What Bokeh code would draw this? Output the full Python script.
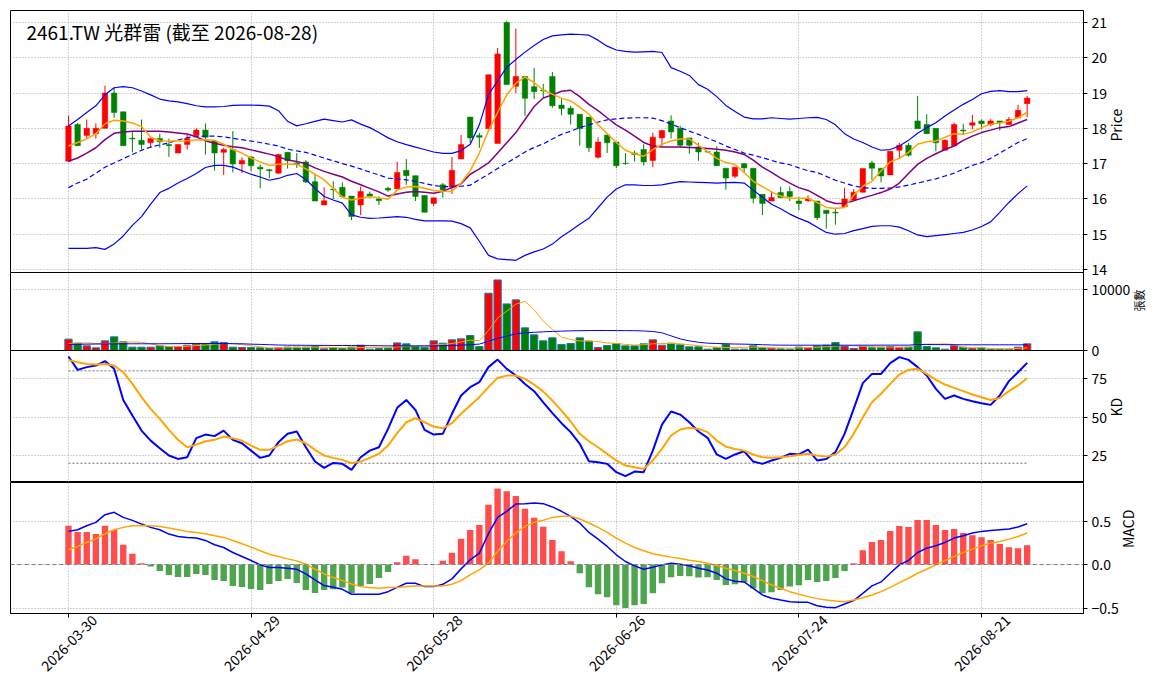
import math
from bokeh.plotting import figure
from bokeh.layouts import column
from bokeh.models import Range1d, FixedTicker, Label, Span, LinearAxis
from bokeh.embed import file_html
from bokeh.resources import INLINE

# ---------------- data ----------------
title_text = "2461.TW 光群雷 (截至 2026-08-28)"
tick_pos = [0, 20, 40, 60, 80, 100]
tick_labels = ["2026-03-30", "2026-04-29", "2026-05-28", "2026-06-26", "2026-07-24", "2026-08-21"]

opens = [17.07,18.11,17.80,17.85,18.00,19.00,18.47,17.72,17.66,17.59,
         17.71,17.54,17.30,17.54,17.80,17.95,17.64,17.32,17.40,16.99,
         17.19,16.90,16.83,16.73,17.32,17.02,17.05,16.49,15.83,16.28,
         16.33,16.08,15.83,16.14,16.00,16.30,16.29,16.81,16.66,16.10,
         15.87,16.40,16.33,17.13,18.32,17.80,17.99,17.57,21.00,19.19,
         19.47,19.18,19.08,19.47,18.66,18.57,18.40,18.32,17.18,17.81,
         17.61,17.01,17.30,17.40,17.09,17.73,18.21,18.00,17.73,17.47,
         17.34,17.33,16.87,16.64,17.00,16.87,16.13,15.94,16.18,16.21,
         15.94,15.95,15.94,15.68,15.62,15.78,15.97,16.19,17.02,16.87,
         16.68,17.38,17.52,18.21,18.11,18.00,17.38,17.51,17.95,18.09,
         18.21,18.11,18.21,18.11,18.30,18.70]
highs = [18.37,18.15,18.25,18.14,19.21,19.16,18.47,17.92,18.25,17.73,
         17.85,17.71,17.56,17.83,18.00,18.14,17.64,17.45,17.92,17.18,
         17.21,16.97,16.85,17.28,17.32,17.30,17.10,16.69,16.33,16.50,
         16.47,16.08,16.35,16.21,16.07,16.35,17.05,17.13,16.66,16.10,
         16.03,16.45,17.19,17.81,18.32,17.87,19.52,20.28,21.05,20.83,
         19.47,19.71,19.26,19.60,18.83,18.64,18.40,18.32,17.75,17.81,
         17.61,17.30,17.37,17.55,17.88,17.94,18.37,18.07,17.73,17.59,
         17.36,17.49,16.87,16.90,17.02,16.87,16.13,16.21,16.35,16.35,
         16.06,16.10,15.94,15.68,15.75,16.32,16.28,16.86,17.08,16.87,
         17.35,17.59,17.59,18.92,18.40,18.00,17.69,18.16,18.13,18.38,
         18.25,18.26,18.21,18.32,18.67,18.92]
lows = [17.05,17.50,17.71,17.71,18.00,18.30,17.51,17.32,17.40,17.45,
        17.45,17.19,17.30,17.40,17.80,17.26,16.80,16.68,16.75,16.73,
        16.78,16.30,16.59,16.71,16.86,16.88,16.45,15.94,15.83,16.00,
        16.03,15.40,15.54,16.02,15.83,16.20,16.27,16.40,15.94,15.62,
        15.80,16.04,16.14,17.13,17.59,17.45,17.99,17.57,19.24,19.00,
        18.35,18.83,18.88,18.58,18.37,18.11,17.51,17.33,17.14,17.30,
        16.87,16.97,17.06,16.95,16.90,17.49,17.71,17.46,17.28,17.08,
        17.31,16.94,16.26,16.59,16.73,15.87,15.54,15.94,16.02,15.94,
        15.68,15.92,15.40,15.16,15.27,15.78,15.97,16.19,16.54,16.47,
        16.68,17.16,17.20,17.99,17.85,17.35,17.38,17.51,17.83,17.97,
        17.97,18.06,17.94,18.11,18.30,18.32]
closes = [18.07,17.51,18.00,18.00,19.00,18.45,17.51,17.70,17.54,17.71,
          17.62,17.51,17.54,17.71,17.95,17.75,17.30,17.40,16.99,17.09,
          16.94,16.85,16.80,17.26,17.08,16.98,16.48,15.94,15.95,16.26,
          16.07,15.50,16.21,16.07,15.95,16.25,16.75,16.66,16.07,15.62,
          16.03,16.26,16.81,17.54,17.73,17.75,19.52,20.11,19.24,19.47,
          18.85,19.04,19.06,18.64,18.56,18.40,17.99,17.45,17.61,17.59,
          16.94,17.00,17.26,17.05,17.75,17.94,17.90,17.52,17.52,17.33,
          17.33,16.94,16.59,16.90,16.88,16.02,15.87,16.04,16.04,16.07,
          15.87,16.00,15.47,15.59,15.60,16.00,16.19,16.86,16.87,16.65,
          17.35,17.52,17.24,17.99,17.85,17.59,17.66,18.11,17.93,18.16,
          18.13,18.21,18.16,18.25,18.51,18.86]

ma5 = [17.50,17.60,17.70,17.85,18.13,18.23,18.21,18.15,18.05,17.75,
       17.65,17.64,17.64,17.65,17.67,17.68,17.66,17.55,17.40,17.30,
       17.16,17.05,16.95,16.98,16.99,16.98,16.85,16.70,16.54,16.30,
       16.05,15.97,16.02,16.07,16.03,15.99,16.25,16.34,16.35,16.30,
       16.24,16.22,16.21,16.45,16.80,17.30,17.93,18.45,18.95,19.28,
       19.45,19.30,19.08,18.97,18.85,18.78,18.60,18.40,18.10,17.85,
       17.60,17.38,17.28,17.21,17.40,17.55,17.64,17.70,17.70,17.52,
       17.35,17.15,17.03,16.98,16.75,16.50,16.35,16.20,16.08,16.02,
       16.02,16.02,15.90,15.76,15.73,15.76,16.10,16.36,16.50,16.80,
       17.05,17.15,17.32,17.55,17.62,17.64,17.75,17.85,17.83,17.90,
       18.02,18.12,18.15,18.20,18.30,18.45]
ma10 = [17.07,17.16,17.30,17.45,17.68,17.86,17.90,17.92,17.92,17.92,
        17.92,17.90,17.87,17.84,17.76,17.65,17.58,17.52,17.48,17.45,
        17.39,17.33,17.27,17.20,17.10,17.06,17.00,16.88,16.78,16.70,
        16.62,16.50,16.40,16.30,16.20,16.08,16.14,16.19,16.21,16.19,
        16.16,16.22,16.32,16.43,16.70,16.85,17.02,17.30,17.59,17.88,
        18.25,18.62,18.86,18.95,19.05,19.08,18.90,18.68,18.50,18.30,
        18.10,17.95,17.78,17.60,17.50,17.47,17.47,17.47,17.46,17.45,
        17.43,17.41,17.38,17.33,17.26,17.10,16.90,16.75,16.59,16.45,
        16.32,16.24,16.10,15.95,15.87,15.88,15.95,16.03,16.10,16.18,
        16.28,16.45,16.72,16.98,17.15,17.28,17.40,17.50,17.66,17.78,
        17.88,17.95,18.02,18.05,18.15,18.25]
bb_mid = [16.32,16.45,16.56,16.73,16.90,17.02,17.14,17.26,17.38,17.47,
          17.53,17.59,17.67,17.74,17.77,17.78,17.78,17.76,17.72,17.68,
          17.64,17.60,17.55,17.50,17.41,17.36,17.32,17.24,17.16,17.08,
          17.00,16.93,16.85,16.76,16.68,16.59,16.57,16.54,16.50,16.44,
          16.38,16.35,16.35,16.36,16.39,16.55,16.70,16.86,17.02,17.17,
          17.33,17.46,17.56,17.70,17.83,17.92,18.02,18.10,18.18,18.24,
          18.27,18.29,18.30,18.30,18.29,18.22,18.12,18.02,17.92,17.83,
          17.72,17.62,17.50,17.40,17.30,17.24,17.17,17.09,17.02,16.97,
          16.88,16.80,16.75,16.64,16.53,16.45,16.37,16.32,16.30,16.30,
          16.31,16.34,16.39,16.45,16.51,16.57,16.65,16.73,16.84,16.95,
          17.03,17.15,17.30,17.45,17.60,17.71]
bb_up = [18.07,18.25,18.45,18.64,18.95,19.15,19.18,19.15,19.06,18.95,
         18.83,18.78,18.75,18.70,18.64,18.61,18.61,18.62,18.65,18.66,
         18.66,18.65,18.63,18.50,18.20,18.07,18.13,18.20,18.26,18.22,
         18.18,18.24,18.12,18.02,17.88,17.73,17.62,17.54,17.47,17.40,
         17.33,17.29,17.29,17.37,17.55,18.10,18.95,19.35,19.73,19.95,
         20.16,20.35,20.52,20.62,20.65,20.67,20.66,20.64,20.50,20.33,
         20.22,20.18,20.16,20.17,20.18,20.15,19.72,19.62,19.50,19.24,
         19.11,18.90,18.65,18.48,18.32,18.27,18.27,18.30,18.28,18.26,
         18.28,18.30,18.31,18.25,18.10,17.85,17.70,17.60,17.47,17.38,
         17.40,17.50,17.66,17.86,18.02,18.16,18.35,18.52,18.68,18.82,
         18.98,19.05,19.07,19.04,19.04,19.07]
bb_low = [14.60,14.60,14.60,14.62,14.57,14.72,14.95,15.25,15.50,15.85,
          16.18,16.30,16.45,16.58,16.72,16.89,16.95,16.95,16.90,16.80,
          16.70,16.62,16.53,16.58,16.67,16.72,16.55,16.30,16.07,15.97,
          15.88,15.55,15.48,15.45,15.46,15.48,15.50,15.48,15.42,15.38,
          15.38,15.38,15.37,15.30,15.18,14.80,14.40,14.30,14.28,14.26,
          14.40,14.50,14.58,14.72,14.93,15.10,15.28,15.45,15.75,16.05,
          16.28,16.40,16.40,16.38,16.38,16.40,16.45,16.49,16.48,16.47,
          16.46,16.45,16.46,16.47,16.45,16.25,16.05,15.85,15.72,15.57,
          15.45,15.35,15.20,15.05,15.00,15.02,15.10,15.16,15.22,15.24,
          15.24,15.20,15.10,14.98,14.93,14.96,14.99,15.02,15.05,15.12,
          15.22,15.35,15.62,15.90,16.15,16.37]

volume = [1860,1200,760,440,1580,2240,1420,550,550,550,
          760,650,650,870,1040,1150,1420,1310,550,490,
          490,440,330,440,550,550,550,650,270,490,
          330,550,870,220,330,440,1250,1090,650,550,
          1580,1200,1750,1910,2460,650,9390,11570,7640,8300,
          3710,2570,1580,2070,980,1150,2070,1530,490,820,
          1150,760,760,1090,1750,870,1200,930,600,600,
          220,440,1040,220,220,760,440,380,270,220,
          550,440,760,870,1310,650,330,650,440,550,
          650,440,550,3060,650,440,220,760,550,330,
          440,220,220,220,550,1090]
vol_ma5 = [1150,1200,1250,1150,1150,1200,1350,1400,1350,1100,
           800,650,650,700,800,900,1050,1150,1100,950,
           800,600,450,440,450,480,520,560,520,480,
           440,420,500,480,480,460,600,700,750,780,
           900,1000,1150,1400,1700,1600,3300,5300,6450,7600,
           8050,6700,4800,3500,2200,1800,1560,1560,1450,1240,
           1150,1000,900,950,1100,1150,1150,1100,950,800,
           650,550,500,480,530,560,550,460,420,400,
           420,480,540,620,730,820,780,700,660,530,
           560,580,560,1000,1050,1050,1080,1000,500,460,
           460,350,300,280,340,430]
vol_ma20 = [1000,1020,1040,1060,1080,1090,1100,1100,1100,1100,
            1100,1110,1120,1140,1150,1150,1150,1140,1120,1100,
            1040,1000,950,900,870,860,850,840,830,820,
            820,810,800,790,780,760,760,760,760,760,
            760,780,820,880,950,1050,1500,2000,2350,2750,
            2900,2980,3060,3120,3170,3220,3250,3270,3280,3280,
            3270,3260,3250,3200,3110,2900,2400,1900,1580,1350,
            1200,1150,1100,1060,1040,1000,950,900,880,870,
            870,870,870,870,870,870,870,875,875,880,
            880,880,880,980,980,970,960,950,940,930,
            930,930,930,930,930,930]

k_line = [89.3,80.6,82.4,83.4,86.3,81.3,61.1,51.0,41.2,34.7,
          29.8,25.0,22.8,23.9,36.3,38.6,37.6,41.2,35.2,33.0,
          28.2,23.5,25.0,33.7,39.1,40.6,30.4,21.1,17.0,20.2,
          19.6,15.7,23.9,28.2,30.4,42.3,56.0,61.1,54.6,41.7,
          38.6,39.1,52.1,64.0,69.4,72.6,82.4,87.3,81.3,77.0,
          71.5,66.8,59.5,52.5,46.0,40.2,32.6,21.3,20.7,19.6,
          14.2,11.6,14.6,14.2,28.2,45.1,53.6,51.6,46.6,40.6,
          36.5,25.7,22.8,25.7,27.8,21.1,19.6,21.8,23.5,26.1,
          25.7,28.9,21.8,22.8,27.2,39.1,55.3,72.0,78.0,78.0,
          85.0,88.9,87.1,82.4,77.0,68.3,61.8,64.0,61.8,60.3,
          59.0,57.9,64.0,73.3,79.1,85.2]
d_line = [87.1,85.6,84.5,84.1,84.5,83.4,79.1,71.5,62.9,55.3,
          48.8,41.7,35.2,30.4,32.1,34.3,35.2,37.3,36.3,34.7,
          31.5,28.7,28.7,31.5,34.3,35.4,33.0,28.7,25.0,23.5,
          22.2,20.0,21.1,23.5,26.1,31.5,39.5,46.6,49.2,46.6,
          43.8,42.7,46.0,52.1,57.5,62.9,69.4,75.4,76.9,77.0,
          74.8,71.1,66.5,60.7,54.2,47.1,39.1,34.3,30.4,26.1,
          21.8,18.5,17.4,16.3,21.8,29.3,38.0,41.9,43.0,42.3,
          40.2,34.7,30.8,29.3,28.2,25.7,23.9,23.5,23.9,24.6,
          25.4,26.1,25.0,24.3,25.7,30.4,39.1,49.9,59.6,65.1,
          71.5,77.6,80.6,81.3,78.0,74.1,71.1,68.9,66.8,64.6,
          62.9,61.1,62.4,66.8,70.5,75.2]
kd_high, kd_low = 80, 20

macd_hist = [0.446,0.373,0.373,0.350,0.446,0.396,0.227,0.123,0.015,-0.023,
             -0.073,-0.119,-0.142,-0.142,-0.108,-0.119,-0.177,-0.188,-0.246,-0.258,
             -0.281,-0.292,-0.223,-0.188,-0.165,-0.212,-0.292,-0.327,-0.292,-0.285,
             -0.265,-0.327,-0.246,-0.223,-0.154,-0.085,0.027,0.100,0.062,0.002,
             0.002,0.042,0.135,0.296,0.396,0.454,0.688,0.873,0.842,0.788,
             0.642,0.538,0.435,0.281,0.154,0.038,-0.100,-0.262,-0.342,-0.377,
             -0.469,-0.500,-0.469,-0.454,-0.331,-0.215,-0.146,-0.131,-0.135,-0.150,
             -0.146,-0.177,-0.235,-0.227,-0.204,-0.277,-0.331,-0.319,-0.292,-0.254,
             -0.238,-0.177,-0.200,-0.188,-0.154,-0.073,0.015,0.165,0.258,0.281,
             0.385,0.442,0.431,0.512,0.512,0.454,0.396,0.408,0.362,0.338,
             0.315,0.281,0.235,0.200,0.188,0.223]
dif = [0.381,0.400,0.446,0.485,0.573,0.600,0.542,0.508,0.465,0.427,
       0.400,0.350,0.323,0.312,0.304,0.277,0.227,0.196,0.138,0.092,
       0.046,-0.004,-0.035,-0.035,-0.042,-0.054,-0.108,-0.177,-0.242,-0.262,
       -0.285,-0.342,-0.342,-0.342,-0.342,-0.312,-0.262,-0.215,-0.215,-0.254,
       -0.254,-0.227,-0.165,-0.050,0.054,0.131,0.354,0.542,0.612,0.696,
       0.700,0.708,0.700,0.662,0.612,0.554,0.477,0.369,0.292,0.208,
       0.112,0.035,-0.015,-0.054,-0.031,-0.004,0.015,0.004,-0.015,-0.042,
       -0.062,-0.100,-0.165,-0.192,-0.200,-0.273,-0.350,-0.388,-0.408,-0.427,
       -0.435,-0.435,-0.473,-0.492,-0.496,-0.454,-0.415,-0.331,-0.246,-0.200,
       -0.100,-0.004,0.046,0.138,0.188,0.215,0.254,0.304,0.331,0.362,
       0.381,0.392,0.400,0.408,0.431,0.469]
dea = [0.169,0.208,0.254,0.296,0.354,0.400,0.427,0.446,0.450,0.446,
       0.438,0.419,0.400,0.381,0.369,0.354,0.331,0.312,0.277,0.238,
       0.200,0.158,0.119,0.092,0.065,0.042,0.004,-0.054,-0.108,-0.150,
       -0.185,-0.223,-0.254,-0.265,-0.273,-0.265,-0.265,-0.254,-0.246,-0.246,
       -0.246,-0.246,-0.227,-0.185,-0.119,-0.062,0.015,0.150,0.265,0.362,
       0.438,0.485,0.508,0.542,0.554,0.554,0.523,0.477,0.427,0.369,
       0.304,0.246,0.196,0.158,0.123,0.104,0.085,0.069,0.050,0.035,
       0.015,-0.012,-0.042,-0.069,-0.100,-0.138,-0.185,-0.235,-0.273,-0.312,
       -0.342,-0.369,-0.392,-0.408,-0.419,-0.427,-0.408,-0.381,-0.350,-0.312,
       -0.262,-0.208,-0.158,-0.100,-0.054,-0.004,0.046,0.092,0.138,0.177,
       0.215,0.246,0.265,0.292,0.323,0.362]

# ---------------- styling ----------------
FONT = "Noto Sans CJK TC"
UP, DOWN = "#ff0000", "#008000"
idx = list(range(len(closes)))
candle_col = [UP if c >= o else DOWN for o, c in zip(opens, closes)]
body_top = [max(o, c) for o, c in zip(opens, closes)]
body_bot = [min(o, c) for o, c in zip(opens, closes)]
hist_col = ["#ff4d4d" if v >= 0 else "#4da64d" for v in macd_hist]

FRAME_W = 1073
OVER = 14  # px a panel's canvas reaches below its frame so edge tick labels fit
x_range = Range1d(-6.35, 111.17)
PX_PER_X = FRAME_W / (x_range.end - x_range.start)
label_over = {p: t for p, t in zip(tick_pos, tick_labels)}


def make_fig(frame_h, yr, yticks, ylabel, top=0, bottom=0, overlap=0,
             ylabel_size="14px"):
    p = figure(frame_width=FRAME_W, frame_height=frame_h, x_range=x_range,
               y_range=Range1d(*yr), output_backend="svg", toolbar_location=None,
               y_axis_location="right", min_border_left=10, min_border_right=72,
               min_border_top=top, min_border_bottom=bottom)
    if overlap:
        p.margin = (-overlap, 0, 0, 0)
        p.border_fill_color = None
    else:
        p.border_fill_color = "white"
    p.outline_line_color = "black"
    p.outline_line_width = 1
    p.outline_line_alpha = 1
    p.background_fill_color = "white"
    p.xaxis.ticker = FixedTicker(ticks=tick_pos)
    p.xgrid.ticker = FixedTicker(ticks=tick_pos)
    p.yaxis.ticker = FixedTicker(ticks=yticks)
    p.ygrid.ticker = FixedTicker(ticks=yticks)
    for g in (p.xgrid, p.ygrid):
        g.grid_line_color = "#a8a8a8"
        g.grid_line_dash = "1 2"
        g.grid_line_width = 1
    for ax in (p.xaxis, p.yaxis):
        ax.axis_line_color = "black"
        ax.major_tick_line_color = "black"
        ax.major_tick_out = 4
        ax.major_tick_in = 0
        ax.minor_tick_line_color = None
        ax.major_label_text_font = FONT
        ax.major_label_text_font_size = "14px"
        ax.major_label_text_color = "black"
        ax.major_label_standoff = 4
    yax = p.yaxis[0]
    yax.axis_label = ylabel
    yax.axis_label_text_font = FONT
    yax.axis_label_text_font_size = ylabel_size
    yax.axis_label_text_font_style = "normal"
    yax.axis_label_text_color = "black"
    yax.axis_label_standoff = 6
    try:
        yax.axis_label_orientation = math.pi / 2
    except Exception:
        pass
    return p


# ---- price panel ----
p1 = make_fig(262, (13.915, 21.34), [14, 15, 16, 17, 18, 19, 20, 21], "Price",
              top=10, bottom=OVER)
p1.xaxis.visible = False
p1.segment(x0=idx, y0=lows, x1=idx, y1=highs, color=candle_col, line_width=1)
p1.vbar(x=idx, width=0.6, top=body_top, bottom=body_bot,
        fill_color=candle_col, line_color=candle_col, line_width=0.5)
p1.line(idx, bb_up, color="blue", line_width=1.2)
p1.line(idx, bb_low, color="blue", line_width=1.2)
p1.line(idx, bb_mid, color="blue", line_width=1.2, line_dash="5 3")
p1.line(idx, ma10, color="purple", line_width=1.5)
p1.line(idx, ma5, color="orange", line_width=1.5)
p1.add_layout(Label(x=-4.6, y=20.74, text=title_text, text_font=FONT,
                    text_font_size="19px", text_baseline="middle",
                    text_align="left", text_color="black"))

# ---- volume panel ----
p2 = make_fig(78, (0, 12787), [0, 10000], "張數", bottom=OVER, overlap=OVER,
              ylabel_size="11px")
p2.xaxis.visible = False
p2.vbar(x=idx, width=0.8, top=volume, bottom=0, fill_color=candle_col,
        line_color="#1f77b4", line_width=1)
p2.line(idx, vol_ma5, color="orange", line_width=1)
p2.line(idx, vol_ma20, color="blue", line_width=1)

# ---- KD panel ----
p3 = make_fig(132, (7.5, 93.2), [25, 50, 75], "KD", overlap=OVER)
p3.xaxis.visible = False
p3.line([idx[0], idx[-1]], [kd_high, kd_high], color="#707070", line_dash="2 2", line_width=1)
p3.line([idx[0], idx[-1]], [kd_low, kd_low], color="#707070", line_dash="2 2", line_width=1)
p3.line(idx, k_line, color="blue", line_width=2)
p3.line(idx, d_line, color="orange", line_width=2)

# ---- MACD panel ----
p4 = make_fig(131, (-0.563, 0.943), [-0.5, 0, 0.5], "MACD")
p4.yaxis.major_label_overrides = {-0.5: "\u22120.5", 0: "0.0", 0.5: "0.5"}
# primary bottom axis: tick marks only
p4.xaxis.major_label_overrides = {p: "" for p in tick_pos}
p4.xaxis.major_label_text_font_size = "1px"
p4.xaxis.major_label_standoff = 0
# date labels centred under their ticks (matplotlib-style rotated labels)
shift = 26 / PX_PER_X
p4.extra_x_ranges = {"lab": Range1d(x_range.start - shift, x_range.end - shift)}
date_axis = LinearAxis(x_range_name="lab", ticker=FixedTicker(ticks=tick_pos),
                       major_label_overrides=label_over,
                       major_label_orientation=math.pi / 4,
                       axis_line_color=None, major_tick_line_color=None,
                       minor_tick_line_color=None, major_label_standoff=0,
                       major_tick_out=0, major_tick_in=0,
                       major_label_text_font=FONT, major_label_text_font_size="14px",
                       major_label_text_color="black")
p4.add_layout(date_axis, "below")
p4.vbar(x=idx, width=0.7, top=macd_hist, bottom=0, fill_color=hist_col, line_color=None)
p4.add_layout(Span(location=0, dimension="width", line_color="#808080",
                   line_dash="4 3", line_width=1))
p4.line(idx, dif, color="blue", line_width=1.5)
p4.line(idx, dea, color="orange", line_width=1.5)
p4.margin = (0, 0, 0, 0)

layout = column(p1, p2, p3, p4, spacing=0)
open("out.html", "w").write(file_html(layout, INLINE))
